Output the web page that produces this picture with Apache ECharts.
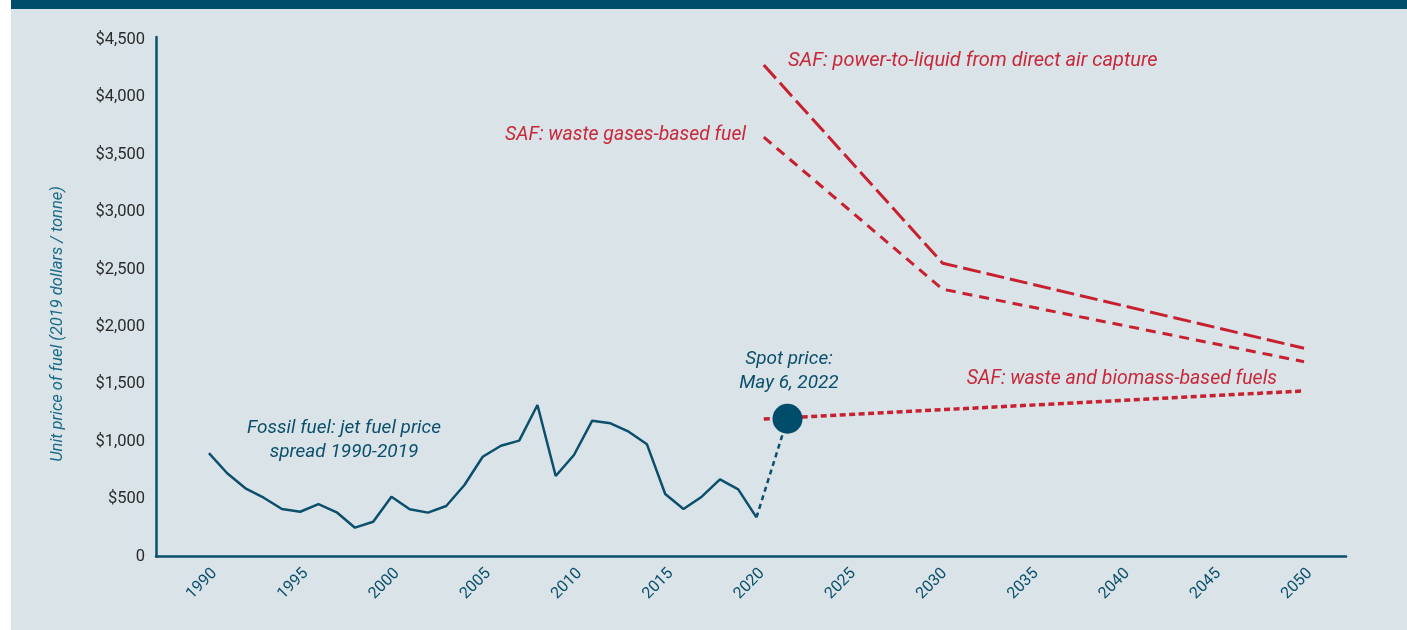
<!DOCTYPE html>
<html>
<head>
<meta charset="utf-8">
<script src="https://cdn.jsdelivr.net/npm/echarts@6/dist/echarts.min.js"></script>
<style>
html,body{margin:0;padding:0;background:#ffffff;}
#chart{width:1407px;height:630px;}
</style>
</head>
<body>
<div id="chart"></div>
<script>
// ---- data ----
const fossilYears = [1990,1991,1992,1993,1994,1995,1996,1997,1998,1999,2000,2001,2002,2003,2004,2005,2006,2007,2008,2009,2010,2011,2012,2013,2014,2015,2016,2017,2018,2019,2020];
const fossilValues = [901,725,594,512,414,390,457,385,251,303,521,411,382,440,623,869,965,1009,1320,701,884,1183,1160,1087,977,544,414,521,672,585,341];
const spotYear = 2021.7;
const spotValue = 1200;
const safYears3 = [2020.4, 2030.2, 2050];
const ptlValues = [4281, 2555, 1814];
const wasteGasValues = [3652, 2328, 1697];
const biomassYears = [2020.4, 2050];
const biomassValues = [1198, 1442];
const xTickLabels = [1990,1995,2000,2005,2010,2015,2020,2025,2030,2035,2040,2045,2050];
const yTickLabels = [0,500,1000,1500,2000,2500,3000,3500,4000,4500];

const TEAL = '#0b4f6c';
const DARK = '#004c6b';
const RED = '#c8202f';
const RED_TXT = '#c8283a';
const FONT = 'Roboto';

const pairs = (xs, ys) => xs.map((x, i) => [x, ys[i]]);

const chart = echarts.init(document.getElementById('chart'), null, {renderer: 'canvas'});
const option = {
  animation: false,
  backgroundColor: 'transparent',
  grid: {left: 156, right: 61, top: 37, bottom: 73.5, containLabel: false},
  xAxis: {
    type: 'value', min: 1987.1, max: 2052.3,
    axisLine: {show: true, lineStyle: {color: TEAL, width: 2.5}},
    axisTick: {show: false},
    splitLine: {show: false},
    axisLabel: {
      customValues: xTickLabels, rotate: 45, margin: 9,
      verticalAlign: 'top',
      color: TEAL, fontFamily: FONT, fontSize: 16,
      formatter: v => String(v)
    }
  },
  yAxis: {
    type: 'value', min: 0, max: 4525,
    axisLine: {show: true, lineStyle: {color: TEAL, width: 2.5}},
    axisTick: {show: false},
    splitLine: {show: false},
    axisLabel: {
      customValues: yTickLabels, margin: 11,
      color: '#2b2b2b', fontFamily: FONT, fontSize: 16.5,
      formatter: v => v === 0 ? '0' : '$' + v.toLocaleString('en-US')
    }
  },
  series: [
    {type: 'line', name: 'fossil', data: pairs(fossilYears, fossilValues), showSymbol: false,
     lineStyle: {color: TEAL, width: 2.5}, z: 3},
    {type: 'line', name: 'connector', data: [[fossilYears[fossilYears.length-1], fossilValues[fossilValues.length-1]], [spotYear, spotValue]],
     showSymbol: false, lineStyle: {color: TEAL, width: 2.5, type: [5, 4]}, z: 3},
    {type: 'line', name: 'biomass', data: pairs(biomassYears, biomassValues), showSymbol: false,
     lineStyle: {color: RED, width: 3.5, type: [6, 3.5]}, z: 2},
    {type: 'line', name: 'wastegas', data: pairs(safYears3, wasteGasValues), showSymbol: false,
     lineStyle: {color: RED, width: 3, type: [10, 7]}, z: 2},
    {type: 'line', name: 'ptl', data: pairs(safYears3, ptlValues), showSymbol: false,
     lineStyle: {color: RED, width: 3, type: [18, 6]}, z: 2},
    {type: 'scatter', name: 'spot', data: [[spotYear, spotValue]], symbolSize: 30,
     itemStyle: {color: DARK, opacity: 1}, z: 5}
  ],
  graphic: [
    {type: 'rect', z: -100, silent: true, shape: {x: 11, y: 0, width: 1396, height: 630}, style: {fill: '#d9e3e8'}},
    {type: 'rect', z: -99, silent: true, shape: {x: 11, y: 0, width: 1396, height: 9}, style: {fill: '#004c6b'}},
    {type: 'text', x: 58, y: 324, rotation: Math.PI / 2, silent: true,
     style: {text: 'Unit price of fuel (2019 dollars / tonne)', fill: '#1a6a86', font: 'italic 16.5px ' + FONT, textAlign: 'center', textVerticalAlign: 'middle'}},
    {type: 'text', x: 788, y: 61, silent: true,
     style: {text: 'SAF: power-to-liquid from direct air capture', fill: RED_TXT, font: 'italic 20px ' + FONT, textAlign: 'left', textVerticalAlign: 'middle'}},
    {type: 'text', x: 746, y: 135, silent: true,
     style: {text: 'SAF: waste gases-based fuel', fill: RED_TXT, font: 'italic 19.4px ' + FONT, textAlign: 'right', textVerticalAlign: 'middle'}},
    {type: 'text', x: 1277, y: 379, silent: true,
     style: {text: 'SAF: waste and biomass-based fuels', fill: RED_TXT, font: 'italic 19.5px ' + FONT, textAlign: 'right', textVerticalAlign: 'middle'}},
    {type: 'text', x: 789, y: 359, silent: true,
     style: {text: 'Spot price:', fill: TEAL, font: 'italic 19px ' + FONT, textAlign: 'center', textVerticalAlign: 'middle'}},
    {type: 'text', x: 789, y: 383, silent: true,
     style: {text: 'May 6, 2022', fill: TEAL, font: 'italic 19px ' + FONT, textAlign: 'center', textVerticalAlign: 'middle'}},
    {type: 'text', x: 344, y: 428, silent: true,
     style: {text: 'Fossil fuel: jet fuel price', fill: TEAL, font: 'italic 19px ' + FONT, textAlign: 'center', textVerticalAlign: 'middle'}},
    {type: 'text', x: 344, y: 452, silent: true,
     style: {text: 'spread 1990-2019', fill: TEAL, font: 'italic 19px ' + FONT, textAlign: 'center', textVerticalAlign: 'middle'}}
  ]
};
chart.setOption(option);
</script>
</body>
</html>
